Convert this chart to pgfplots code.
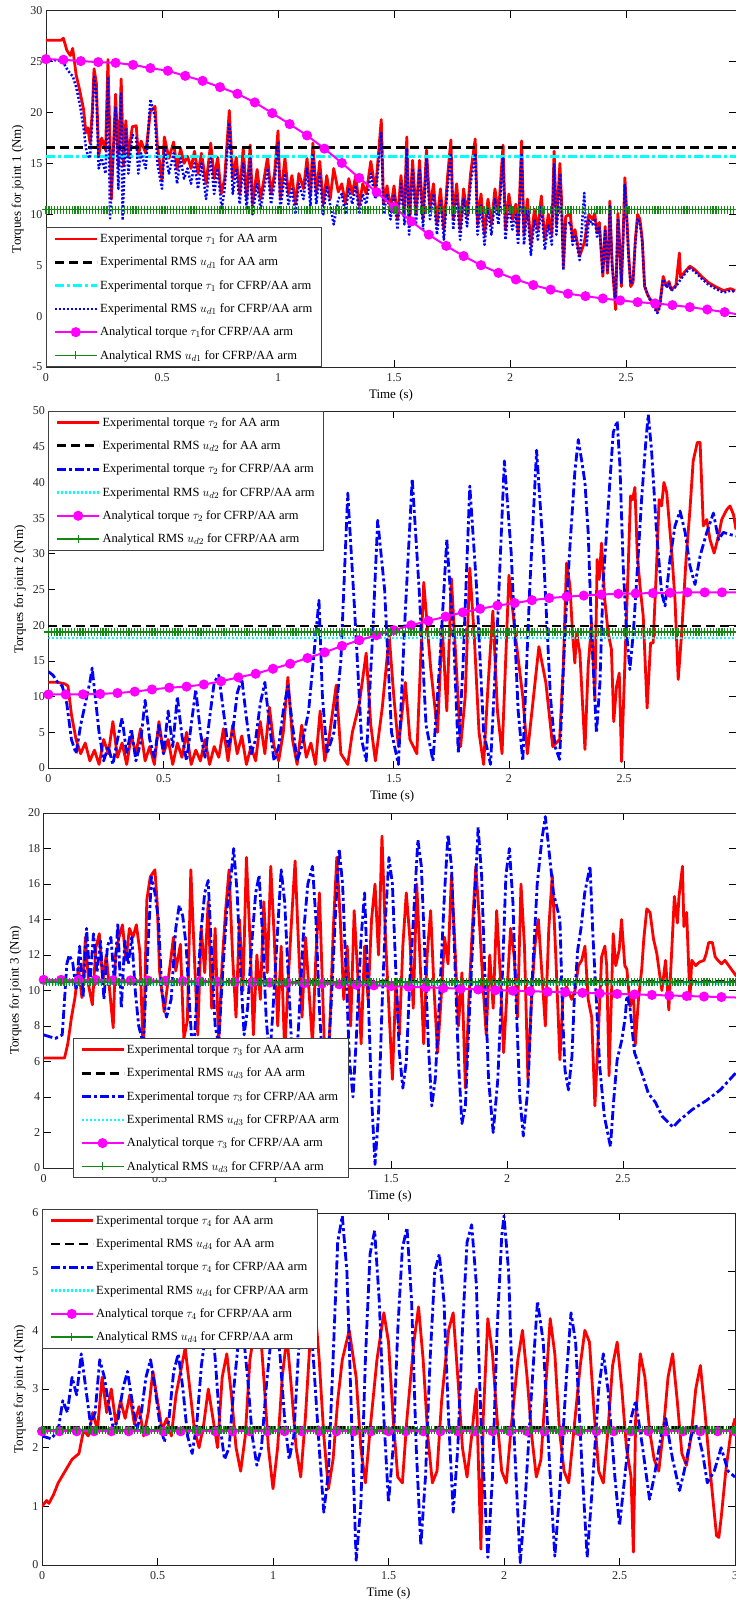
\documentclass[border=0pt]{standalone}
\usepackage{fontspec}
\setmainfont{Liberation Serif}
\usepackage{pgfplots}
\usepackage{pgfplotstable}
\pgfplotsset{compat=1.18}

\definecolor{mgreen}{RGB}{20,135,20}
\definecolor{mred}{RGB}{255,0,0}
\definecolor{mblue}{RGB}{0,0,255}
\definecolor{mcyan}{RGB}{0,255,255}
\definecolor{mmag}{RGB}{255,0,255}

% ---------- joint 1 ----------
\pgfplotstableread{
t v
0 27.1
0.065 27.1
0.075 27.3
0.09 26.1
0.105 25.6
0.115 26.3
0.13 23.7
0.146 22.1
0.162 20.3
0.172 18.0
0.18 18.5
0.19 17.0
0.2 20.3
0.207 24.3
0.217 22.9
0.227 15.7
0.24 17.5
0.257 16.3
0.267 25.2
0.282 11.5
0.3 21.8
0.312 14.7
0.324 23.3
0.334 14.8
0.344 19.2
0.355 15.7
0.372 18.6
0.389 18.7
0.398 15.7
0.41 17.2
0.43 16.0
0.45 20.1
0.47 20.6
0.48 16.8
0.5 13.3
0.51 17.6
0.53 15.5
0.55 17.1
0.565 14.4
0.58 16.5
0.595 15.0
0.61 15.7
0.625 14.5
0.64 16.2
0.655 14.0
0.67 16.0
0.69 13.0
0.71 17.0
0.725 13.5
0.74 15.6
0.755 12.0
0.77 13.5
0.79 20.2
0.805 13.5
0.82 15.6
0.835 12.0
0.85 16.5
0.865 11.5
0.88 16.8
0.89 11.0
0.91 14.4
0.925 11.5
0.94 13.5
0.955 15.6
0.97 12.0
0.985 14.0
1.0 18.2
1.01 11.5
1.03 15.5
1.045 12.0
1.06 13.8
1.075 11.0
1.09 14.0
1.11 12.5
1.125 15.5
1.14 11.8
1.15 17.0
1.165 12.0
1.18 15.2
1.195 11.0
1.21 13.8
1.225 11.5
1.24 14.5
1.26 12.2
1.275 13.0
1.29 11.0
1.305 13.5
1.32 12.0
1.335 13.8
1.35 10.8
1.365 13.0
1.38 12.0
1.4 15.2
1.42 12.3
1.445 19.3
1.455 11.0
1.47 12.8
1.485 10.5
1.5 12.8
1.515 9.5
1.53 13.8
1.545 10.0
1.555 17.6
1.565 9.0
1.58 15.3
1.595 10.0
1.61 15.3
1.625 9.5
1.64 16.3
1.655 10.5
1.67 13.0
1.685 9.0
1.7 12.5
1.715 8.5
1.73 13.5
1.745 17.3
1.755 9.5
1.77 13.0
1.785 8.5
1.8 12.5
1.815 9.8
1.83 14.0
1.85 17.4
1.86 9.0
1.875 12.0
1.89 8.0
1.905 11.5
1.92 9.0
1.935 12.5
1.95 10.0
1.97 16.8
1.98 8.5
1.995 12.0
2.01 9.5
2.025 11.0
2.035 8.0
2.05 17.2
2.06 8.0
2.075 11.5
2.09 7.0
2.105 10.5
2.12 8.5
2.135 11.8
2.15 7.5
2.165 10.0
2.18 8.0
2.19 16.2
2.2 9.0
2.215 15.0
2.222 11.4
2.23 4.9
2.24 9.8
2.26 10.0
2.27 7.5
2.28 8.5
2.3 5.9
2.32 7.2
2.34 10.0
2.355 9.5
2.365 10.1
2.375 8.2
2.385 9.2
2.4 3.9
2.41 8.8
2.42 4.2
2.425 6.2
2.43 11.3
2.44 5.2
2.455 0.65
2.465 10.1
2.47 8.2
2.48 2.9
2.487 7.5
2.495 13.6
2.5 11.4
2.51 6.5
2.52 2.9
2.53 3.3
2.54 7.5
2.55 10.0
2.56 9.5
2.57 7.5
2.58 2.9
2.595 2.0
2.615 1.3
2.635 0.5
2.645 1.0
2.66 3.9
2.675 2.9
2.685 3.4
2.695 2.6
2.715 3.0
2.73 6.2
2.735 3.8
2.755 4.4
2.775 4.9
2.795 4.6
2.825 3.9
2.855 3.3
2.885 2.9
2.92 2.5
2.95 2.7
2.97 2.5
}\redA

\pgfplotstableread{
t v
0 25.2
0.06 25.1
0.075 24.9
0.09 24.3
0.105 23.8
0.115 23.6
0.13 22.5
0.146 20.8
0.162 18.5
0.172 16.5
0.18 15.8
0.19 15.5
0.2 19.5
0.207 23.5
0.217 21.8
0.227 14.5
0.24 15.5
0.257 14.0
0.267 23.5
0.276 9.6
0.3 20.5
0.312 12.5
0.324 22.0
0.33 9.4
0.344 18.5
0.355 14.0
0.372 17.8
0.389 17.5
0.398 14.0
0.41 16.0
0.43 14.5
0.45 21.3
0.47 19.5
0.48 15.0
0.5 12.5
0.51 16.5
0.53 14.0
0.55 16.0
0.565 13.0
0.58 15.5
0.595 13.5
0.61 14.5
0.625 13.0
0.64 15.0
0.655 12.5
0.67 15.0
0.69 11.5
0.71 15.5
0.725 12.0
0.74 14.5
0.757 10.5
0.77 12.5
0.79 19.0
0.805 12.0
0.82 14.5
0.835 11.0
0.85 15.0
0.865 10.5
0.88 15.5
0.89 10.0
0.91 13.0
0.925 10.5
0.94 12.5
0.955 14.5
0.97 11.0
0.985 13.0
1.0 17.0
1.01 10.5
1.03 14.0
1.045 11.0
1.06 12.5
1.075 10.0
1.09 13.0
1.11 11.5
1.125 14.5
1.14 10.8
1.15 16.0
1.165 11.0
1.18 14.0
1.195 10.0
1.21 12.8
1.24 9.0
1.26 11.5
1.275 12.0
1.29 10.0
1.305 12.5
1.32 11.0
1.335 12.8
1.35 10.0
1.365 12.0
1.38 11.0
1.4 14.0
1.42 11.5
1.445 18.0
1.455 10.0
1.47 12.0
1.485 9.5
1.5 12.0
1.515 8.5
1.53 13.0
1.545 9.0
1.555 16.5
1.565 8.0
1.58 14.5
1.595 9.0
1.61 14.5
1.625 8.5
1.64 15.5
1.655 9.5
1.67 12.0
1.685 8.0
1.7 11.5
1.715 7.5
1.73 12.5
1.745 16.0
1.755 8.5
1.77 12.0
1.785 7.5
1.8 11.5
1.815 8.8
1.83 13.0
1.85 16.0
1.86 8.0
1.875 11.0
1.89 7.0
1.905 10.5
1.92 8.0
1.935 11.5
1.95 9.0
1.97 15.5
1.98 7.5
1.995 11.0
2.01 8.5
2.025 10.0
2.035 7.0
2.05 16.0
2.06 7.0
2.075 10.5
2.09 6.0
2.105 9.5
2.12 7.5
2.135 10.8
2.15 6.5
2.165 9.0
2.18 7.0
2.19 15.0
2.2 8.0
2.215 14.0
2.222 10.5
2.23 4.5
2.24 9.0
2.26 9.2
2.27 7.0
2.28 8.0
2.3 5.5
2.32 12.1
2.33 6.8
2.34 9.5
2.355 9.0
2.365 9.6
2.375 7.8
2.385 8.8
2.4 4.2
2.41 8.4
2.42 4.5
2.425 6.0
2.43 10.8
2.44 5.0
2.455 1.5
2.465 9.6
2.47 7.8
2.48 3.2
2.487 7.2
2.495 13.0
2.5 11.0
2.51 6.2
2.52 3.2
2.53 3.4
2.54 7.2
2.55 9.6
2.56 9.2
2.57 7.2
2.58 3.0
2.595 2.0
2.615 1.0
2.635 0.3
2.645 0.8
2.66 3.6
2.675 2.8
2.685 3.2
2.695 2.5
2.715 2.9
2.735 3.6
2.755 4.2
2.775 4.7
2.795 4.4
2.825 3.7
2.855 3.1
2.885 2.7
2.92 2.3
2.95 2.5
2.97 2.4
}\blueA

\pgfplotstableread{
t v
0 25.24
0.075 25.18
0.15 25.05
0.225 24.95
0.3 24.88
0.375 24.68
0.45 24.36
0.525 24.1
0.6 23.6
0.675 23.11
0.75 22.49
0.825 21.84
0.9 20.99
0.975 19.94
1.05 18.86
1.125 17.75
1.2 16.45
1.275 15.04
1.35 13.57
1.425 12.17
1.5 10.7
1.575 9.3
1.65 8.0
1.725 6.9
1.8 5.9
1.875 5.0
1.95 4.25
2.025 3.6
2.1 3.05
2.175 2.6
2.25 2.2
2.325 1.96
2.4 1.73
2.475 1.54
2.55 1.37
2.625 1.25
2.7 1.08
2.775 0.88
2.85 0.65
2.925 0.39
3.0 0.1
}\magA

% ---------- joint 2 ----------
\pgfplotstableread{
t v
0 12.0
0.04 12.0
0.07 11.8
0.085 11.5
0.1 7.5
0.12 4.0
0.14 2.0
0.16 3.5
0.18 1.0
0.2 2.5
0.22 0.5
0.24 4.0
0.26 2.0
0.28 6.5
0.3 1.5
0.32 3.5
0.34 0.5
0.36 4.5
0.38 2.0
0.4 5.5
0.42 1.0
0.44 3.0
0.46 0.5
0.48 6.5
0.5 2.0
0.52 4.0
0.54 0.5
0.56 3.5
0.58 1.5
0.6 5.0
0.62 0.5
0.64 2.5
0.66 1.0
0.68 4.0
0.7 0.5
0.72 3.0
0.74 1.5
0.76 5.5
0.78 1.0
0.8 6.0
0.82 2.0
0.84 4.5
0.86 0.5
0.88 3.0
0.9 1.0
0.92 6.5
0.94 2.0
0.96 8.5
0.98 3.0
1.0 1.0
1.02 5.0
1.04 12.7
1.06 4.0
1.08 0.5
1.1 6.0
1.12 1.5
1.14 3.5
1.16 0.5
1.18 8.0
1.2 1.0
1.22 4.5
1.25 11.6
1.27 2.0
1.3 0.5
1.32 5.0
1.35 9.0
1.38 16.1
1.4 6.0
1.42 1.0
1.45 8.5
1.48 18.5
1.5 10.0
1.52 3.0
1.55 12.0
1.57 4.0
1.6 2.0
1.63 26.0
1.66 14.0
1.69 5.0
1.71 20.0
1.73 8.0
1.75 26.5
1.77 15.0
1.79 3.0
1.81 10.0
1.83 28.0
1.85 18.0
1.87 5.0
1.89 0.5
1.91 12.0
1.93 22.0
1.95 8.0
1.97 2.0
2.0 27.0
2.03 18.0
2.06 10.0
2.08 2.0
2.1 8.0
2.13 17.0
2.16 12.0
2.19 3.0
2.22 4.0
2.236 14.3
2.25 28.7
2.265 25.5
2.276 18.9
2.286 14.7
2.294 18.9
2.308 16.1
2.33 2.6
2.344 14.3
2.359 20.3
2.373 9.6
2.383 29.2
2.392 26.4
2.402 31.5
2.416 23.6
2.431 18.9
2.445 16.6
2.455 6.5
2.467 11.4
2.479 13.3
2.489 0.9
2.503 14.3
2.518 28.3
2.528 38.1
2.537 37.6
2.547 39.3
2.557 30.1
2.569 25.5
2.583 21.3
2.6 8.4
2.615 17.5
2.626 17.5
2.641 28.3
2.652 37.6
2.663 36.7
2.673 40.0
2.685 38.6
2.706 30.6
2.721 23.6
2.735 12.4
2.75 18.9
2.769 29.2
2.786 36.2
2.8 43.0
2.818 45.6
2.83 45.6
2.844 33.9
2.859 34.8
2.873 32.0
2.891 30.1
2.91 32.5
2.924 34.8
2.946 36.2
2.96 36.7
2.975 35.5
2.986 33.4
}\redB

\pgfplotstableread{
t v
0 13.5
0.02 13.0
0.04 12.0
0.06 11.5
0.08 9.0
0.1 4.0
0.12 2.0
0.14 6.0
0.16 9.0
0.18 12.0
0.19 14.0
0.2 11.0
0.22 5.0
0.24 1.0
0.26 3.0
0.28 0.5
0.3 4.0
0.32 7.0
0.34 2.0
0.36 5.5
0.38 1.0
0.4 3.5
0.42 9.5
0.44 4.0
0.46 1.5
0.48 6.0
0.5 2.0
0.52 8.0
0.54 3.0
0.56 10.0
0.58 4.5
0.6 1.0
0.62 6.0
0.64 11.0
0.66 5.0
0.68 1.5
0.7 7.0
0.72 12.0
0.74 13.0
0.76 8.0
0.78 3.0
0.8 5.0
0.82 10.5
0.84 12.5
0.86 7.0
0.88 2.0
0.9 4.0
0.92 9.0
0.94 12.0
0.96 6.0
0.98 1.0
1.0 3.0
1.02 8.0
1.04 11.5
1.06 6.0
1.08 1.0
1.1 3.0
1.13 8.0
1.175 23.5
1.19 10.0
1.21 2.0
1.24 5.0
1.27 15.0
1.3 38.5
1.33 22.0
1.36 4.0
1.38 1.0
1.41 20.0
1.43 34.7
1.46 25.0
1.49 5.0
1.52 0.5
1.55 22.0
1.58 40.5
1.61 25.0
1.64 6.0
1.67 1.0
1.7 15.0
1.73 32.0
1.76 18.0
1.78 2.0
1.8 14.0
1.83 39.5
1.86 25.0
1.89 5.0
1.92 0.5
1.95 20.0
1.98 43.0
2.01 30.0
2.04 8.0
2.06 1.0
2.09 25.0
2.12 44.5
2.15 30.0
2.18 10.0
2.2 3.0
2.22 1.2
2.243 18.9
2.265 31.1
2.286 41.4
2.301 46.0
2.315 43.2
2.33 40.0
2.344 33.0
2.359 18.9
2.373 9.6
2.38 4.9
2.395 11.9
2.409 26.0
2.424 33.0
2.438 40.0
2.453 47.0
2.47 48.6
2.482 42.3
2.496 28.3
2.511 18.9
2.525 13.8
2.54 18.9
2.554 26.0
2.576 37.6
2.595 46.0
2.605 49.5
2.619 44.6
2.641 33.0
2.663 24.5
2.678 22.7
2.699 29.2
2.721 33.9
2.743 36.0
2.765 33.0
2.786 28.3
2.808 25.7
2.83 29.7
2.859 33.0
2.888 35.7
2.91 32.0
2.931 33.0
2.96 32.7
2.986 32.5
}\blueB

\pgfplotstableread{
t v
0 10.3
0.075 10.3
0.15 10.32
0.225 10.38
0.3 10.5
0.375 10.7
0.45 11.0
0.525 11.25
0.6 11.4
0.675 11.7
0.75 12.15
0.825 12.7
0.9 13.2
0.975 13.9
1.05 14.6
1.125 15.4
1.2 16.2
1.275 17.1
1.35 17.9
1.425 18.6
1.5 19.3
1.575 20.0
1.65 20.6
1.725 21.2
1.8 21.8
1.875 22.3
1.95 22.75
2.025 23.1
2.1 23.5
2.175 23.8
2.25 24.0
2.325 24.15
2.4 24.3
2.475 24.4
2.55 24.45
2.625 24.5
2.7 24.55
2.775 24.6
2.85 24.6
2.925 24.6
3.0 24.6
}\magB

% ---------- joint 3 ----------
\pgfplotstableread{
t v
0 6.2
0.09 6.2
0.104 7.0
0.12 8.5
0.135 9.6
0.15 11.3
0.165 9.6
0.18 13.0
0.195 10.2
0.21 9.2
0.225 12.4
0.24 13.2
0.255 10.5
0.27 12.0
0.3 7.9
0.31 12.0
0.325 13.0
0.34 13.7
0.355 11.7
0.37 13.5
0.385 13.0
0.4 13.7
0.415 12.2
0.43 6.3
0.445 15.1
0.46 16.4
0.48 16.8
0.49 14.9
0.5 11.1
0.52 8.8
0.545 11.4
0.56 13.0
0.57 11.1
0.59 12.6
0.605 7.3
0.62 8.3
0.635 16.8
0.65 12.0
0.665 7.5
0.68 13.5
0.695 11.0
0.71 15.0
0.725 9.0
0.74 13.5
0.755 7.0
0.77 11.5
0.785 14.5
0.8 16.8
0.815 12.0
0.83 8.5
0.845 14.0
0.86 10.0
0.875 17.5
0.89 13.0
0.905 7.5
0.92 12.0
0.935 9.5
0.95 15.0
0.965 11.0
0.98 17.0
0.995 13.0
1.01 8.0
1.025 12.5
1.04 6.5
1.055 10.5
1.07 14.0
1.085 17.3
1.1 12.5
1.115 8.5
1.13 13.0
1.145 10.0
1.16 7.0
1.175 12.0
1.19 15.5
1.205 9.5
1.22 3.4
1.235 8.0
1.25 13.5
1.265 17.5
1.28 14.0
1.295 9.5
1.31 12.5
1.325 8.0
1.34 14.5
1.355 11.0
1.37 7.0
1.385 12.5
1.4 9.5
1.415 14.0
1.43 16.0
1.445 12.0
1.46 18.7
1.475 13.0
1.49 9.0
1.505 5.0
1.52 10.5
1.535 7.5
1.55 12.5
1.565 15.5
1.58 13.0
1.595 9.0
1.61 16.0
1.625 11.5
1.64 7.0
1.655 12.0
1.67 14.5
1.685 10.0
1.7 6.5
1.715 9.5
1.73 13.0
1.745 11.5
1.76 16.5
1.775 12.5
1.79 8.0
1.805 11.0
1.82 4.5
1.835 9.5
1.85 13.5
1.865 17.0
1.88 14.0
1.895 10.5
1.91 7.5
1.925 12.0
1.94 9.0
1.955 14.5
1.97 11.0
1.985 6.5
2.0 10.0
2.015 13.5
2.03 12.0
2.045 8.5
2.06 16.0
2.075 12.5
2.09 5.0
2.105 9.5
2.12 12.5
2.135 14.0
2.15 11.0
2.165 8.0
2.18 13.5
2.195 16.5
2.21 12.0
2.228 6.1
2.242 9.9
2.257 10.2
2.279 9.5
2.293 10.0
2.308 11.4
2.322 11.7
2.336 12.5
2.35 9.5
2.365 8.5
2.379 3.5
2.394 7.6
2.408 11.9
2.422 12.5
2.43 11.4
2.44 5.2
2.45 9.5
2.458 13.2
2.469 11.4
2.484 12.3
2.494 14.0
2.508 11.4
2.517 11.2
2.531 9.1
2.546 9.7
2.553 6.9
2.567 9.5
2.581 11.2
2.59 12.9
2.603 14.6
2.617 14.4
2.632 12.9
2.646 12.1
2.668 10.0
2.684 11.7
2.698 8.9
2.722 15.3
2.735 13.8
2.742 15.3
2.757 17.0
2.763 13.6
2.775 14.4
2.789 9.5
2.797 11.7
2.814 11.4
2.83 11.6
2.85 11.7
2.86 12.1
2.87 12.7
2.886 12.7
2.898 11.9
2.91 11.7
2.925 11.5
2.94 11.7
2.99 10.8
}\redC

\pgfplotstableread{
t v
0 7.5
0.05 7.3
0.08 7.5
0.09 9.5
0.1 11.5
0.11 12.0
0.125 11.6
0.14 10.0
0.155 12.5
0.17 9.6
0.185 13.5
0.2 10.5
0.215 13.2
0.23 11.0
0.245 12.8
0.26 9.5
0.275 12.5
0.29 13.0
0.305 10.5
0.32 13.8
0.335 9.0
0.35 12.8
0.365 11.5
0.38 13.0
0.395 10.0
0.41 8.0
0.43 7.0
0.45 12.5
0.465 16.4
0.48 15.5
0.495 14.0
0.51 10.0
0.53 8.5
0.55 9.5
0.57 13.5
0.585 14.8
0.6 14.2
0.615 12.5
0.63 9.0
0.645 6.0
0.66 9.5
0.68 13.5
0.695 15.5
0.71 16.2
0.725 12.0
0.74 8.0
0.755 7.0
0.77 10.5
0.79 14.5
0.805 16.0
0.82 18.0
0.835 15.5
0.85 11.0
0.865 7.5
0.88 9.0
0.9 13.0
0.915 15.5
0.93 16.5
0.945 13.0
0.96 8.5
0.975 6.0
0.99 9.0
1.01 13.5
1.025 16.8
1.04 15.0
1.055 11.0
1.07 7.0
1.085 5.0
1.1 8.0
1.12 13.0
1.14 16.0
1.16 17.0
1.175 14.0
1.19 9.0
1.205 5.5
1.22 4.5
1.24 9.0
1.26 14.5
1.275 18.0
1.29 16.0
1.305 11.0
1.32 6.0
1.335 4.0
1.35 7.5
1.37 13.0
1.385 15.5
1.4 10.0
1.415 4.0
1.43 0.2
1.445 3.0
1.46 9.0
1.475 14.0
1.49 17.5
1.505 16.0
1.52 11.0
1.535 6.5
1.55 4.5
1.565 6.0
1.58 10.5
1.6 15.0
1.615 18.5
1.63 17.0
1.645 12.0
1.66 7.0
1.675 3.5
1.69 5.0
1.71 10.0
1.73 15.5
1.745 18.8
1.76 17.0
1.775 11.5
1.79 6.0
1.805 2.5
1.82 3.5
1.84 9.5
1.86 15.0
1.875 19.2
1.89 16.5
1.905 10.5
1.92 5.0
1.94 2.0
1.96 5.0
1.98 11.0
1.995 16.5
2.01 18.0
2.025 15.0
2.04 9.0
2.055 4.0
2.07 1.8
2.09 4.5
2.11 11.0
2.13 16.0
2.15 18.5
2.165 19.8
2.18 18.0
2.2 15.5
2.228 14.0
2.24 8.5
2.25 5.5
2.265 4.4
2.28 6.3
2.29 9.5
2.305 12.3
2.32 13.6
2.335 15.5
2.358 17.0
2.37 13.2
2.385 9.5
2.4 5.7
2.42 2.9
2.446 1.2
2.46 3.8
2.475 6.1
2.495 7.2
2.51 8.5
2.517 9.7
2.53 9.1
2.55 6.5
2.58 5.4
2.61 4.2
2.64 3.7
2.67 2.9
2.716 2.3
2.745 2.7
2.8 3.3
2.86 3.8
2.92 4.4
2.99 5.4
}\blueC

\pgfplotstableread{
t v
0 10.6
0.075 10.6
0.15 10.6
0.225 10.6
0.3 10.58
0.375 10.57
0.45 10.56
0.525 10.55
0.6 10.53
0.675 10.52
0.75 10.5
0.825 10.48
0.9 10.47
0.975 10.45
1.05 10.43
1.125 10.41
1.2 10.38
1.275 10.35
1.35 10.32
1.425 10.29
1.5 10.25
1.575 10.21
1.65 10.18
1.725 10.14
1.8 10.1
1.875 10.06
1.95 10.02
2.025 9.99
2.1 9.96
2.175 9.93
2.25 9.9
2.325 9.87
2.4 9.84
2.475 9.81
2.55 9.78
2.625 9.75
2.7 9.72
2.775 9.69
2.85 9.66
2.925 9.63
3.0 9.6
}\magC

% ---------- joint 4 ----------
\pgfplotstableread{
t v
0 1.0
0.02 1.1
0.03 1.05
0.05 1.2
0.07 1.4
0.1 1.6
0.13 1.8
0.16 1.9
0.18 2.3
0.2 2.2
0.22 2.6
0.24 2.3
0.26 3.2
0.28 2.6
0.3 3.0
0.32 2.4
0.34 2.8
0.36 2.5
0.38 2.9
0.4 2.4
0.42 2.7
0.44 2.2
0.46 2.6
0.48 3.3
0.5 2.8
0.52 2.3
0.54 2.5
0.56 2.2
0.58 2.9
0.6 3.3
0.62 3.7
0.64 3.0
0.66 2.3
0.68 2.0
0.7 2.4
0.72 3.0
0.74 2.5
0.76 2.0
0.78 3.2
0.8 3.6
0.82 2.9
0.84 2.0
0.86 1.6
0.88 2.2
0.9 3.5
0.92 4.0
0.94 4.3
0.96 3.2
0.98 2.0
1.0 1.3
1.02 2.0
1.04 3.2
1.06 3.9
1.08 3.0
1.1 2.0
1.12 1.5
1.14 2.5
1.16 3.8
1.18 4.5
1.2 3.5
1.22 2.2
1.24 1.3
1.26 1.8
1.28 2.8
1.3 3.5
1.33 4.0
1.36 3.2
1.38 2.0
1.4 1.4
1.42 2.3
1.45 3.5
1.48 4.3
1.5 3.8
1.52 2.5
1.54 1.5
1.56 1.4
1.58 2.5
1.61 3.8
1.63 4.4
1.65 3.5
1.67 2.2
1.69 1.4
1.71 1.6
1.73 2.8
1.76 4.0
1.78 4.3
1.8 3.2
1.82 2.0
1.84 1.5
1.86 2.2
1.88 3.0
1.9 0.27
1.91 2.5
1.93 4.2
1.95 3.6
1.97 2.5
1.99 1.6
2.01 1.4
2.03 2.3
2.06 3.5
2.08 4.0
2.1 3.2
2.12 2.2
2.14 1.5
2.16 1.8
2.18 3.0
2.2 4.2
2.22 3.6
2.24 2.3
2.26 1.6
2.28 1.4
2.3 2.2
2.33 3.4
2.35 4.0
2.37 3.8
2.39 2.6
2.41 1.6
2.43 1.4
2.45 2.3
2.47 3.4
2.49 3.8
2.51 3.0
2.53 2.0
2.55 1.5
2.56 0.22
2.57 2.5
2.59 3.6
2.61 3.2
2.63 2.3
2.65 1.8
2.67 1.6
2.69 2.3
2.71 3.2
2.73 3.6
2.75 2.8
2.77 1.9
2.79 1.7
2.81 2.2
2.83 3.0
2.85 3.4
2.87 2.6
2.89 1.7
2.91 0.9
2.92 0.5
2.93 0.47
2.94 0.8
2.96 1.6
2.98 2.2
3.0 2.5
}\redD

\pgfplotstableread{
t v
0 2.2
0.04 2.15
0.07 2.3
0.09 2.8
0.11 2.6
0.13 3.2
0.15 2.9
0.17 3.6
0.19 3.0
0.21 2.4
0.23 2.6
0.25 3.5
0.27 3.2
0.29 2.7
0.31 2.3
0.33 2.5
0.35 3.0
0.37 3.3
0.39 2.8
0.41 2.3
0.43 2.6
0.45 3.2
0.47 3.5
0.49 3.0
0.51 2.4
0.53 2.1
0.55 2.5
0.57 3.3
0.59 3.6
0.61 3.0
0.63 2.2
0.65 1.9
0.67 2.4
0.69 3.4
0.71 4.0
0.73 4.4
0.75 3.5
0.77 2.4
0.79 1.8
0.81 2.0
0.83 3.0
0.85 3.8
0.87 4.0
0.89 3.2
0.91 2.2
0.93 1.7
0.95 2.0
0.97 3.0
0.99 3.8
1.01 4.2
1.03 3.6
1.05 2.5
1.07 1.8
1.09 2.2
1.11 3.6
1.13 4.6
1.15 4.8
1.17 3.8
1.2 2.0
1.22 0.9
1.24 1.6
1.26 3.5
1.28 5.5
1.3 5.95
1.32 5.0
1.34 2.5
1.36 0.08
1.38 1.0
1.4 3.5
1.42 5.3
1.44 5.7
1.46 4.5
1.48 2.5
1.5 1.07
1.52 2.0
1.54 4.0
1.56 5.4
1.58 5.75
1.6 4.5
1.62 2.0
1.64 0.33
1.66 1.5
1.68 3.5
1.7 5.0
1.72 5.3
1.74 4.5
1.76 2.5
1.78 0.9
1.8 2.0
1.82 4.0
1.84 5.5
1.86 5.8
1.88 4.8
1.9 2.5
1.93 0.13
1.95 1.5
1.97 4.0
1.99 5.6
2.0 5.95
2.02 5.0
2.04 2.5
2.07 0.04
2.09 1.0
2.12 3.0
2.145 4.5
2.17 3.8
2.2 1.5
2.22 0.15
2.24 1.2
2.27 3.2
2.29 4.3
2.31 3.8
2.34 1.5
2.36 0.13
2.38 1.2
2.41 3.0
2.43 3.6
2.45 3.0
2.48 1.5
2.5 0.67
2.52 1.4
2.55 2.5
2.57 2.8
2.6 2.0
2.63 1.12
2.65 1.5
2.68 2.2
2.7 2.5
2.73 1.8
2.76 1.27
2.78 1.6
2.81 2.2
2.83 2.4
2.86 1.9
2.88 1.4
2.91 1.6
2.94 2.0
2.97 1.6
3.0 1.5
}\blueD

\pgfplotstableread{
t v
0 2.28
0.075 2.28
0.15 2.28
0.225 2.28
0.3 2.28
0.375 2.28
0.45 2.28
0.525 2.28
0.6 2.28
0.675 2.28
0.75 2.28
0.825 2.28
0.9 2.28
0.975 2.28
1.05 2.28
1.125 2.28
1.2 2.28
1.275 2.28
1.35 2.28
1.425 2.28
1.5 2.28
1.575 2.28
1.65 2.28
1.725 2.28
1.8 2.28
1.875 2.28
1.95 2.28
2.025 2.28
2.1 2.28
2.175 2.28
2.25 2.28
2.325 2.28
2.4 2.28
2.475 2.28
2.55 2.28
2.625 2.28
2.7 2.28
2.775 2.28
2.85 2.28
2.925 2.28
3.0 2.28
}\magD

% analytical RMS values, one column per joint
\pgfplotstableread{
t g1 g2 g3 g4
0 10.45 19.05 10.47 2.31
0.0125 10.45 19.05 10.47 2.31
0.025 10.45 19.05 10.47 2.31
0.0375 10.45 19.05 10.47 2.31
0.05 10.45 19.05 10.47 2.31
0.0625 10.45 19.05 10.47 2.31
0.075 10.45 19.05 10.47 2.31
0.0875 10.45 19.05 10.47 2.31
0.1 10.45 19.05 10.47 2.31
0.1125 10.45 19.05 10.47 2.31
0.125 10.45 19.05 10.47 2.31
0.1375 10.45 19.05 10.47 2.31
0.15 10.45 19.05 10.47 2.31
0.1625 10.45 19.05 10.47 2.31
0.175 10.45 19.05 10.47 2.31
0.1875 10.45 19.05 10.47 2.31
0.2 10.45 19.05 10.47 2.31
0.2125 10.45 19.05 10.47 2.31
0.225 10.45 19.05 10.47 2.31
0.2375 10.45 19.05 10.47 2.31
0.25 10.45 19.05 10.47 2.31
0.2625 10.45 19.05 10.47 2.31
0.275 10.45 19.05 10.47 2.31
0.2875 10.45 19.05 10.47 2.31
0.3 10.45 19.05 10.47 2.31
0.3125 10.45 19.05 10.47 2.31
0.325 10.45 19.05 10.47 2.31
0.3375 10.45 19.05 10.47 2.31
0.35 10.45 19.05 10.47 2.31
0.3625 10.45 19.05 10.47 2.31
0.375 10.45 19.05 10.47 2.31
0.3875 10.45 19.05 10.47 2.31
0.4 10.45 19.05 10.47 2.31
0.4125 10.45 19.05 10.47 2.31
0.425 10.45 19.05 10.47 2.31
0.4375 10.45 19.05 10.47 2.31
0.45 10.45 19.05 10.47 2.31
0.4625 10.45 19.05 10.47 2.31
0.475 10.45 19.05 10.47 2.31
0.4875 10.45 19.05 10.47 2.31
0.5 10.45 19.05 10.47 2.31
0.5125 10.45 19.05 10.47 2.31
0.525 10.45 19.05 10.47 2.31
0.5375 10.45 19.05 10.47 2.31
0.55 10.45 19.05 10.47 2.31
0.5625 10.45 19.05 10.47 2.31
0.575 10.45 19.05 10.47 2.31
0.5875 10.45 19.05 10.47 2.31
0.6 10.45 19.05 10.47 2.31
0.6125 10.45 19.05 10.47 2.31
0.625 10.45 19.05 10.47 2.31
0.6375 10.45 19.05 10.47 2.31
0.65 10.45 19.05 10.47 2.31
0.6625 10.45 19.05 10.47 2.31
0.675 10.45 19.05 10.47 2.31
0.6875 10.45 19.05 10.47 2.31
0.7 10.45 19.05 10.47 2.31
0.7125 10.45 19.05 10.47 2.31
0.725 10.45 19.05 10.47 2.31
0.7375 10.45 19.05 10.47 2.31
0.75 10.45 19.05 10.47 2.31
0.7625 10.45 19.05 10.47 2.31
0.775 10.45 19.05 10.47 2.31
0.7875 10.45 19.05 10.47 2.31
0.8 10.45 19.05 10.47 2.31
0.8125 10.45 19.05 10.47 2.31
0.825 10.45 19.05 10.47 2.31
0.8375 10.45 19.05 10.47 2.31
0.85 10.45 19.05 10.47 2.31
0.8625 10.45 19.05 10.47 2.31
0.875 10.45 19.05 10.47 2.31
0.8875 10.45 19.05 10.47 2.31
0.9 10.45 19.05 10.47 2.31
0.9125 10.45 19.05 10.47 2.31
0.925 10.45 19.05 10.47 2.31
0.9375 10.45 19.05 10.47 2.31
0.95 10.45 19.05 10.47 2.31
0.9625 10.45 19.05 10.47 2.31
0.975 10.45 19.05 10.47 2.31
0.9875 10.45 19.05 10.47 2.31
1 10.45 19.05 10.47 2.31
1.0125 10.45 19.05 10.47 2.31
1.025 10.45 19.05 10.47 2.31
1.0375 10.45 19.05 10.47 2.31
1.05 10.45 19.05 10.47 2.31
1.0625 10.45 19.05 10.47 2.31
1.075 10.45 19.05 10.47 2.31
1.0875 10.45 19.05 10.47 2.31
1.1 10.45 19.05 10.47 2.31
1.1125 10.45 19.05 10.47 2.31
1.125 10.45 19.05 10.47 2.31
1.1375 10.45 19.05 10.47 2.31
1.15 10.45 19.05 10.47 2.31
1.1625 10.45 19.05 10.47 2.31
1.175 10.45 19.05 10.47 2.31
1.1875 10.45 19.05 10.47 2.31
1.2 10.45 19.05 10.47 2.31
1.2125 10.45 19.05 10.47 2.31
1.225 10.45 19.05 10.47 2.31
1.2375 10.45 19.05 10.47 2.31
1.25 10.45 19.05 10.47 2.31
1.2625 10.45 19.05 10.47 2.31
1.275 10.45 19.05 10.47 2.31
1.2875 10.45 19.05 10.47 2.31
1.3 10.45 19.05 10.47 2.31
1.3125 10.45 19.05 10.47 2.31
1.325 10.45 19.05 10.47 2.31
1.3375 10.45 19.05 10.47 2.31
1.35 10.45 19.05 10.47 2.31
1.3625 10.45 19.05 10.47 2.31
1.375 10.45 19.05 10.47 2.31
1.3875 10.45 19.05 10.47 2.31
1.4 10.45 19.05 10.47 2.31
1.4125 10.45 19.05 10.47 2.31
1.425 10.45 19.05 10.47 2.31
1.4375 10.45 19.05 10.47 2.31
1.45 10.45 19.05 10.47 2.31
1.4625 10.45 19.05 10.47 2.31
1.475 10.45 19.05 10.47 2.31
1.4875 10.45 19.05 10.47 2.31
1.5 10.45 19.05 10.47 2.31
1.5125 10.45 19.05 10.47 2.31
1.525 10.45 19.05 10.47 2.31
1.5375 10.45 19.05 10.47 2.31
1.55 10.45 19.05 10.47 2.31
1.5625 10.45 19.05 10.47 2.31
1.575 10.45 19.05 10.47 2.31
1.5875 10.45 19.05 10.47 2.31
1.6 10.45 19.05 10.47 2.31
1.6125 10.45 19.05 10.47 2.31
1.625 10.45 19.05 10.47 2.31
1.6375 10.45 19.05 10.47 2.31
1.65 10.45 19.05 10.47 2.31
1.6625 10.45 19.05 10.47 2.31
1.675 10.45 19.05 10.47 2.31
1.6875 10.45 19.05 10.47 2.31
1.7 10.45 19.05 10.47 2.31
1.7125 10.45 19.05 10.47 2.31
1.725 10.45 19.05 10.47 2.31
1.7375 10.45 19.05 10.47 2.31
1.75 10.45 19.05 10.47 2.31
1.7625 10.45 19.05 10.47 2.31
1.775 10.45 19.05 10.47 2.31
1.7875 10.45 19.05 10.47 2.31
1.8 10.45 19.05 10.47 2.31
1.8125 10.45 19.05 10.47 2.31
1.825 10.45 19.05 10.47 2.31
1.8375 10.45 19.05 10.47 2.31
1.85 10.45 19.05 10.47 2.31
1.8625 10.45 19.05 10.47 2.31
1.875 10.45 19.05 10.47 2.31
1.8875 10.45 19.05 10.47 2.31
1.9 10.45 19.05 10.47 2.31
1.9125 10.45 19.05 10.47 2.31
1.925 10.45 19.05 10.47 2.31
1.9375 10.45 19.05 10.47 2.31
1.95 10.45 19.05 10.47 2.31
1.9625 10.45 19.05 10.47 2.31
1.975 10.45 19.05 10.47 2.31
1.9875 10.45 19.05 10.47 2.31
2 10.45 19.05 10.47 2.31
2.0125 10.45 19.05 10.47 2.31
2.025 10.45 19.05 10.47 2.31
2.0375 10.45 19.05 10.47 2.31
2.05 10.45 19.05 10.47 2.31
2.0625 10.45 19.05 10.47 2.31
2.075 10.45 19.05 10.47 2.31
2.0875 10.45 19.05 10.47 2.31
2.1 10.45 19.05 10.47 2.31
2.1125 10.45 19.05 10.47 2.31
2.125 10.45 19.05 10.47 2.31
2.1375 10.45 19.05 10.47 2.31
2.15 10.45 19.05 10.47 2.31
2.1625 10.45 19.05 10.47 2.31
2.175 10.45 19.05 10.47 2.31
2.1875 10.45 19.05 10.47 2.31
2.2 10.45 19.05 10.47 2.31
2.2125 10.45 19.05 10.47 2.31
2.225 10.45 19.05 10.47 2.31
2.2375 10.45 19.05 10.47 2.31
2.25 10.45 19.05 10.47 2.31
2.2625 10.45 19.05 10.47 2.31
2.275 10.45 19.05 10.47 2.31
2.2875 10.45 19.05 10.47 2.31
2.3 10.45 19.05 10.47 2.31
2.3125 10.45 19.05 10.47 2.31
2.325 10.45 19.05 10.47 2.31
2.3375 10.45 19.05 10.47 2.31
2.35 10.45 19.05 10.47 2.31
2.3625 10.45 19.05 10.47 2.31
2.375 10.45 19.05 10.47 2.31
2.3875 10.45 19.05 10.47 2.31
2.4 10.45 19.05 10.47 2.31
2.4125 10.45 19.05 10.47 2.31
2.425 10.45 19.05 10.47 2.31
2.4375 10.45 19.05 10.47 2.31
2.45 10.45 19.05 10.47 2.31
2.4625 10.45 19.05 10.47 2.31
2.475 10.45 19.05 10.47 2.31
2.4875 10.45 19.05 10.47 2.31
2.5 10.45 19.05 10.47 2.31
2.5125 10.45 19.05 10.47 2.31
2.525 10.45 19.05 10.47 2.31
2.5375 10.45 19.05 10.47 2.31
2.55 10.45 19.05 10.47 2.31
2.5625 10.45 19.05 10.47 2.31
2.575 10.45 19.05 10.47 2.31
2.5875 10.45 19.05 10.47 2.31
2.6 10.45 19.05 10.47 2.31
2.6125 10.45 19.05 10.47 2.31
2.625 10.45 19.05 10.47 2.31
2.6375 10.45 19.05 10.47 2.31
2.65 10.45 19.05 10.47 2.31
2.6625 10.45 19.05 10.47 2.31
2.675 10.45 19.05 10.47 2.31
2.6875 10.45 19.05 10.47 2.31
2.7 10.45 19.05 10.47 2.31
2.7125 10.45 19.05 10.47 2.31
2.725 10.45 19.05 10.47 2.31
2.7375 10.45 19.05 10.47 2.31
2.75 10.45 19.05 10.47 2.31
2.7625 10.45 19.05 10.47 2.31
2.775 10.45 19.05 10.47 2.31
2.7875 10.45 19.05 10.47 2.31
2.8 10.45 19.05 10.47 2.31
2.8125 10.45 19.05 10.47 2.31
2.825 10.45 19.05 10.47 2.31
2.8375 10.45 19.05 10.47 2.31
2.85 10.45 19.05 10.47 2.31
2.8625 10.45 19.05 10.47 2.31
2.875 10.45 19.05 10.47 2.31
2.8875 10.45 19.05 10.47 2.31
2.9 10.45 19.05 10.47 2.31
2.9125 10.45 19.05 10.47 2.31
2.925 10.45 19.05 10.47 2.31
2.9375 10.45 19.05 10.47 2.31
2.95 10.45 19.05 10.47 2.31
2.9625 10.45 19.05 10.47 2.31
2.975 10.45 19.05 10.47 2.31
2.9875 10.45 19.05 10.47 2.31
3 10.45 19.05 10.47 2.31
}\rmsgrid

\pgfplotsset{
  panel/.style={
    scale only axis, xmin=0,
    xtick={0,0.5,1,1.5,2,2.5,3},
    tick align=inside, major tick length=7pt,
    axis line style={line width=0.8pt, black!85},
    every tick/.append style={line width=0.8pt, black},
    tick label style={font=\fontsize{12}{13}\selectfont, black!85},
    xticklabel style={yshift=-3pt},
    label style={font=\fontsize{13}{14}\selectfont},
    xlabel={Time (s)},
    xlabel style={yshift=-1pt},
    /pgf/number format/assume math mode=true,
    legend cell align=left,
    legend style={font=\fontsize{12.5}{14}\selectfont, draw=black!75, line width=0.8pt,
      fill=white, inner xsep=7pt, inner ysep=4pt, row sep=9pt},
    legend image code/.code={\draw[mark repeat=2,mark phase=2,#1]
      plot coordinates {(0pt,0pt) (21pt,0pt) (42pt,0pt)};},
  },
  redl/.style={mred, line width=2.8pt, line join=round, mark=none},
  blackd/.style={black, line width=2.8pt, dash pattern=on 9pt off 5pt, mark=none},
  dashdot/.style={line width=2.8pt, dash pattern=on 9pt off 3pt on 3pt off 3pt, line join=round, mark=none},
  dotl/.style={line width=2.5pt, dash pattern=on 2pt off 2pt, line join=round, mark=none},
  magl/.style={mmag, line width=2pt, mark=*, mark size=4pt, mark options={solid, fill=mmag}},
  greenl/.style={mgreen, line width=1.5pt, mark=+, mark size=4pt, mark options={solid, line width=1.2pt}},
}

\begin{document}
\begin{tikzpicture}
\useasboundingbox (0pt,0pt) rectangle (736pt,-1606pt);

% joint 1
\begin{axis}[panel, at={(46pt,-367pt)}, anchor=south west,
  width=690pt, height=356.3pt, xmax=2.974,
  ymin=-5, ymax=30, ytick={-5,0,5,10,15,20,25,30},
  ylabel={Torques for joint 1 (Nm)},
  legend style={at={(0,0)}, anchor=south west}]
\addplot[redl] table[x=t,y=v] {\redA};
\addlegendentry{Experimental torque $\tau_1$ for AA arm}
\addplot[blackd] coordinates {(0,16.55) (3,16.55)};
\addlegendentry{Experimental RMS $u_{d1}$ for AA arm}
\addplot[mcyan, dashdot] coordinates {(0,15.7) (3,15.7)};
\addlegendentry{Experimental torque $\tau_1$ for CFRP/AA arm}
\addplot[mblue, dotl] table[x=t,y=v] {\blueA};
\addlegendentry{Experimental RMS $u_{d1}$ for CFRP/AA arm}
\addplot[magl] table[x=t,y=v] {\magA};
\addlegendentry{Analytical torque $\tau_1$for CFRP/AA arm}
\addplot[greenl] table[x=t,y=g1] {\rmsgrid};
\addlegendentry{Analytical RMS $u_{d1}$ for CFRP/AA arm}
\end{axis}

% joint 2
\begin{axis}[panel, at={(48.4pt,-768pt)}, anchor=south west,
  width=687.6pt, height=357pt, xmax=2.986,
  ymin=0, ymax=50, ytick={0,5,...,50},
  ylabel={Torques for joint 2 (Nm)},
  legend style={at={(0,1)}, anchor=north west}]
\addplot[redl] table[x=t,y=v] {\redB};
\addlegendentry{Experimental torque $\tau_2$ for AA arm}
\addplot[blackd] coordinates {(0,19.9) (3,19.9)};
\addlegendentry{Experimental RMS $u_{d2}$ for AA arm}
\addplot[mblue, dashdot] table[x=t,y=v] {\blueB};
\addlegendentry{Experimental torque $\tau_2$ for CFRP/AA arm}
\addplot[mcyan, dotl] coordinates {(0,18.2) (3,18.2)};
\addlegendentry{Experimental RMS $u_{d2}$ for CFRP/AA arm}
\addplot[magl] table[x=t,y=v] {\magB};
\addlegendentry{Analytical torque $\tau_2$ for CFRP/AA arm}
\addplot[greenl] table[x=t,y=g2] {\rmsgrid};
\addlegendentry{Analytical RMS $u_{d2}$ for CFRP/AA arm}
\end{axis}

% joint 3
\begin{axis}[panel, at={(43.7pt,-1168pt)}, anchor=south west,
  width=692.3pt, height=355pt, xmax=2.988,
  ymin=0, ymax=20, ytick={0,2,...,20},
  ylabel={Torques for joint 3 (Nm)},
  legend style={at={(0.042,-0.028)}, anchor=south west}]
\addplot[redl] table[x=t,y=v] {\redC};
\addlegendentry{Experimental torque $\tau_3$ for AA arm}
\addplot[blackd] coordinates {(0,10.52) (3,10.52)};
\addlegendentry{Experimental RMS $u_{d3}$ for AA arm}
\addplot[mblue, dashdot] table[x=t,y=v] {\blueC};
\addlegendentry{Experimental torque $\tau_3$ for CFRP/AA arm}
\addplot[mcyan, dotl] coordinates {(0,10.4) (3,10.4)};
\addlegendentry{Experimental RMS $u_{d3}$ for CFRP/AA arm}
\addplot[magl] table[x=t,y=v] {\magC};
\addlegendentry{Analytical torque $\tau_3$ for CFRP/AA arm}
\addplot[greenl] table[x=t,y=g3] {\rmsgrid};
\addlegendentry{Analytical RMS $u_{d3}$ for CFRP/AA arm}
\end{axis}

% joint 4
\begin{axis}[panel, at={(42pt,-1565pt)}, anchor=south west,
  width=693pt, height=352pt, xmax=3,
  ymin=0, ymax=6, ytick={0,1,...,6},
  ylabel={Torques for joint 4 (Nm)},
  legend style={at={(0,1.011)}, anchor=north west}]
\addplot[redl] table[x=t,y=v] {\redD};
\addlegendentry{Experimental torque $\tau_4$ for AA arm}
\addplot[blackd] coordinates {(0,2.35) (3,2.35)};
\addlegendentry{Experimental RMS $u_{d4}$ for AA arm}
\addplot[mblue, dashdot] table[x=t,y=v] {\blueD};
\addlegendentry{Experimental torque $\tau_4$ for CFRP/AA arm}
\addplot[mcyan, dotl] coordinates {(0,2.3) (3,2.3)};
\addlegendentry{Experimental RMS $u_{d4}$ for CFRP/AA arm}
\addplot[magl] table[x=t,y=v] {\magD};
\addlegendentry{Analytical torque $\tau_4$ for CFRP/AA arm}
\addplot[greenl] table[x=t,y=g4] {\rmsgrid};
\addlegendentry{Analytical RMS $u_{d4}$ for CFRP/AA arm}
\end{axis}
\end{tikzpicture}
\end{document}
